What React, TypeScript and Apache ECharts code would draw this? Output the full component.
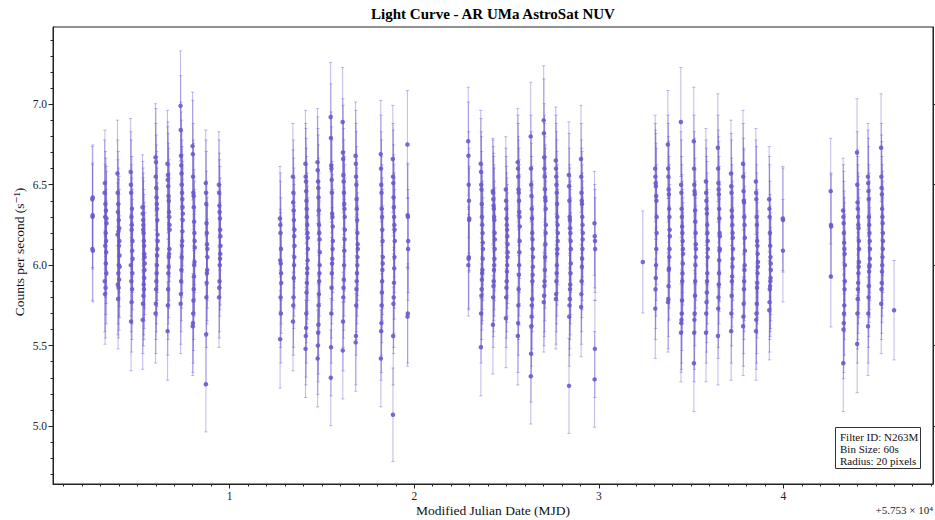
import React, { useEffect, useRef } from "react";
import * as echarts from "echarts";

// Time axis is MJD - 57530 (offset label shown at the lower right)
const BIN_SECONDS = 60;
const BIN_DAYS = BIN_SECONDS / 86400;

const X_MIN = 0.043;
const X_MAX = 4.81;
const Y_MIN = 4.64;
const Y_MAX = 7.48;

const xMajorTicks = [1, 2, 3, 4];
const yMajorTicks = [5.0, 5.5, 6.0, 6.5, 7.0];

// Mid times (MJD - 57530) of each orbit segment, and 60 s binned count rates (s^-1)
const visit1Mid = [0.2575, 0.328, 0.398, 0.469, 0.534, 0.604, 0.669, 0.74, 0.805, 0.875, 0.946];
const visit1Rates = [
  [6.41, 6.3, 6.42, 6.09, 6.31, 6.1],
  [6.45, 6.51, 6.3, 6.38, 6.2, 6.34, 6.08, 6.29, 6.26, 5.95, 6.15, 6.01, 5.86, 6.12, 5.82, 5.9],
  [6.57, 6.45, 6.33, 6.38, 6.21, 6.28, 6.12, 6.23, 6.06, 5.99, 6.15, 5.91, 6.0, 5.86, 5.95, 5.79, 5.88, 6.19],
  [6.58, 6.5, 6.45, 6.3, 6.22, 6.35, 6.09, 6.15, 6.04, 5.95, 5.85, 6.25, 5.77, 5.9, 5.65, 6.0],
  [6.36, 6.32, 6.28, 6.25, 6.2, 6.15, 6.12, 6.07, 6.05, 6.01, 5.97, 5.92, 5.85, 5.88, 5.81, 6.22, 5.76, 5.66],
  [6.67, 6.55, 6.64, 6.48, 6.42, 6.38, 6.35, 6.28, 6.19, 6.15, 6.1, 6.06, 6.0, 5.95, 5.9, 5.85, 5.76, 5.7],
  [6.63, 6.53, 6.56, 6.49, 6.43, 6.4, 6.33, 6.3, 6.25, 6.22, 6.1, 6.07, 6.05, 5.99, 5.95, 5.85, 5.75, 5.59],
  [6.99, 6.84, 6.68, 6.62, 6.57, 6.5, 6.45, 6.41, 6.36, 6.32, 6.28, 6.21, 6.15, 6.12, 6.05, 5.97, 5.9, 5.82, 5.76],
  [6.74, 6.69, 6.55, 6.45, 6.43, 6.36, 6.27, 6.2, 6.15, 6.11, 6.02, 6.0, 5.93, 5.85, 5.78, 5.7, 5.64, 5.62],
  [6.51, 6.45, 6.38, 6.26, 6.2, 6.13, 6.1, 6.05, 5.97, 5.95, 5.89, 5.8, 5.57, 5.26],
  [6.5, 6.45, 6.37, 6.33, 6.29, 6.22, 6.18, 6.12, 6.07, 6.04, 6.0, 5.9, 5.86, 5.8],
];

const visit2Mid = [1.276, 1.347, 1.417, 1.482, 1.553, 1.618, 1.688, 1.824, 1.889, 1.965];
const visit2Rates = [
  [6.29, 6.03, 6.2, 6.01, 6.1, 5.89, 5.95, 5.7, 5.8, 6.25, 5.54],
  [6.55, 6.39, 6.45, 6.34, 6.28, 6.18, 6.22, 6.12, 6.05, 6.0, 5.92, 5.8, 5.75, 5.65],
  [6.63, 6.55, 6.52, 6.46, 6.4, 6.35, 6.3, 6.25, 6.2, 6.17, 6.1, 6.03, 5.98, 5.95, 5.89, 5.83, 5.7, 5.61, 5.56, 5.48],
  [6.64, 6.59, 6.52, 6.48, 6.42, 6.34, 6.25, 6.2, 6.16, 6.08, 6.0, 5.95, 5.9, 5.82, 5.75, 5.63, 5.58, 5.5, 5.42],
  [6.92, 6.79, 6.62, 6.6, 6.53, 6.45, 6.32, 6.3, 6.24, 6.15, 6.1, 6.04, 6.01, 5.95, 5.86, 5.7, 5.49, 5.3],
  [6.89, 6.7, 6.66, 6.56, 6.52, 6.45, 6.38, 6.35, 6.3, 6.22, 6.16, 6.09, 6.0, 5.91, 5.86, 5.8, 5.65, 5.47],
  [6.68, 6.63, 6.55, 6.5, 6.41, 6.35, 6.28, 6.2, 6.13, 6.1, 6.05, 6.0, 5.95, 5.9, 5.85, 5.75, 5.56, 5.52],
  [6.69, 6.6, 6.5, 6.45, 6.35, 6.3, 6.22, 6.15, 6.05, 6.01, 5.97, 5.9, 5.83, 5.75, 5.64, 5.59, 5.42],
  [6.66, 6.55, 6.51, 6.42, 6.36, 6.3, 6.25, 6.22, 6.15, 6.05, 5.98, 5.89, 5.8, 5.76, 5.56, 5.07],
  [6.75, 6.31, 6.3, 6.15, 6.1, 5.7, 5.68],
];

const visit3Mid = [2.295, 2.366, 2.431, 2.501, 2.566, 2.637, 2.707, 2.772, 2.843, 2.908, 2.978];
const visit3Rates = [
  [6.77, 6.68, 6.5, 6.4, 6.29, 6.28, 6.05, 6.04, 6.0],
  [6.63, 6.58, 6.5, 6.47, 6.38, 6.3, 6.25, 6.2, 6.14, 6.1, 6.04, 5.97, 5.95, 5.91, 5.85, 5.81, 5.7, 5.49],
  [6.46, 6.45, 6.41, 6.37, 6.35, 6.3, 6.28, 6.2, 6.16, 6.1, 6.04, 6.0, 5.97, 5.9, 5.87, 5.8, 5.63],
  [6.47, 6.4, 6.35, 6.29, 6.25, 6.22, 6.18, 6.13, 6.08, 6.05, 6.0, 5.96, 5.9, 5.86, 5.8, 5.67],
  [6.64, 6.6, 6.55, 6.47, 6.45, 6.4, 6.33, 6.3, 6.24, 6.15, 6.08, 6.0, 5.94, 5.85, 5.75, 5.64, 5.56],
  [6.8, 6.6, 6.5, 6.43, 6.35, 6.29, 6.2, 6.16, 6.1, 6.05, 5.99, 5.94, 5.9, 5.79, 5.75, 5.68, 5.62, 5.45, 5.31],
  [6.9, 6.82, 6.67, 6.6, 6.55, 6.47, 6.42, 6.4, 6.35, 6.25, 6.2, 6.13, 6.05, 5.97, 5.9, 5.87, 5.81, 5.77],
  [6.65, 6.6, 6.55, 6.5, 6.45, 6.38, 6.3, 6.25, 6.2, 6.15, 6.1, 6.07, 6.0, 5.95, 5.9, 5.82, 5.79],
  [6.56, 6.49, 6.4, 6.3, 6.28, 6.23, 6.2, 6.15, 6.1, 6.01, 5.95, 5.88, 5.85, 5.79, 5.75, 5.68, 5.25],
  [6.66, 6.55, 6.45, 6.4, 6.38, 6.3, 6.25, 6.2, 6.16, 6.1, 6.04, 5.99, 5.9, 5.82, 5.74],
  [6.26, 6.18, 6.15, 6.1, 5.48, 5.29],
];

const visit4Mid = [3.238, 3.309, 3.379, 3.45, 3.52, 3.585, 3.65, 3.721, 3.786, 3.856, 3.927, 3.997];
const visit4Rates = [
  [6.02],
  [6.6, 6.55, 6.51, 6.49, 6.43, 6.4, 6.3, 6.2, 6.1, 6.0, 5.92, 5.85, 5.73],
  [6.75, 6.6, 6.55, 6.47, 6.44, 6.35, 6.3, 6.22, 6.18, 6.1, 6.05, 5.98, 5.97, 5.87, 5.79, 5.77],
  [6.89, 6.5, 6.45, 6.35, 6.3, 6.24, 6.2, 6.15, 6.1, 6.07, 6.01, 5.95, 5.9, 5.78, 5.7, 5.66, 5.64, 5.58],
  [6.77, 6.6, 6.5, 6.46, 6.44, 6.34, 6.27, 6.2, 6.13, 6.1, 6.05, 6.0, 5.9, 5.81, 5.7, 5.66, 5.58, 5.39],
  [6.52, 6.45, 6.4, 6.35, 6.32, 6.25, 6.2, 6.15, 6.1, 6.05, 5.95, 5.9, 5.83, 5.77, 5.7, 5.58],
  [6.73, 6.6, 6.51, 6.47, 6.44, 6.35, 6.29, 6.2, 6.18, 6.1, 6.09, 6.03, 5.95, 5.88, 5.8, 5.73, 5.56],
  [6.57, 6.49, 6.45, 6.34, 6.3, 6.25, 6.2, 6.17, 6.1, 6.04, 5.99, 5.93, 5.9, 5.81, 5.7, 5.59],
  [6.63, 6.55, 6.46, 6.4, 6.39, 6.3, 6.25, 6.17, 6.09, 6.0, 5.97, 5.9, 5.85, 5.76, 5.68, 5.62],
  [6.52, 6.45, 6.41, 6.3, 6.25, 6.15, 6.12, 6.07, 6.02, 5.99, 5.95, 5.89, 5.86, 5.76, 5.7, 5.66, 5.59],
  [6.41, 6.35, 6.3, 6.2, 6.12, 6.05, 6.01, 5.97, 5.92, 5.9, 5.87, 5.85, 5.77, 5.72],
  [6.29, 6.28, 6.09],
];

const visit5Mid = [4.257, 4.328, 4.404, 4.463, 4.534, 4.599];
const visit5Rates = [
  [6.46, 6.25, 6.24, 5.93],
  [6.34, 6.3, 6.26, 6.2, 6.14, 6.1, 6.07, 6.0, 5.9, 5.85, 5.75, 5.7, 5.64, 5.6, 5.39],
  [6.7, 6.5, 6.39, 6.35, 6.3, 6.25, 6.23, 6.15, 6.1, 6.02, 5.99, 5.95, 5.89, 5.85, 5.79, 5.7, 5.51],
  [6.55, 6.51, 6.46, 6.41, 6.3, 6.25, 6.2, 6.15, 6.1, 6.04, 6.0, 5.99, 5.96, 5.87, 5.8, 5.7, 5.62],
  [6.73, 6.55, 6.48, 6.44, 6.35, 6.3, 6.26, 6.2, 6.15, 6.1, 6.05, 6.0, 5.96, 5.89, 5.85, 5.76],
  [5.72],
];

const COLOR = "#6a5acd";
const FONT = "'Liberation Serif', 'DejaVu Serif', serif";

function buildPoints() {
  const mids = [visit1Mid, visit2Mid, visit3Mid, visit4Mid, visit5Mid];
  const rates = [visit1Rates, visit2Rates, visit3Rates, visit4Rates, visit5Rates];
  const pts: number[][] = [];
  mids.forEach((midArr, v) => {
    midArr.forEach((mid, c) => {
      const vals = rates[v][c];
      const n = vals.length;
      // interleave order in time so the column is not sorted
      const ordered: number[] = [];
      let a = 0;
      let b = n - 1;
      while (a <= b) {
        ordered.push(vals[a]);
        if (a !== b) ordered.push(vals[b]);
        a++;
        b--;
      }
      ordered.forEach((y, i) => {
        const x = mid + (i - (n - 1) / 2) * BIN_DAYS;
        const err = Math.sqrt(y * BIN_SECONDS) / BIN_SECONDS;
        pts.push([x, y, y - err, y + err]);
      });
    });
  });
  return pts;
}

const xMinorTicks: number[] = [];
for (let k = 1; k <= 48; k++) if (k % 10 !== 0) xMinorTicks.push(k / 10);
const yMinorTicks: number[] = [];
for (let k = 47; k <= 74; k++) if (k % 5 !== 0) yMinorTicks.push(k / 10);

export default function App() {
  const ref = useRef<HTMLDivElement>(null);
  useEffect(() => {
    if (!ref.current) return;
    const chart = echarts.init(ref.current, undefined, { renderer: "svg" });
    const pts = buildPoints();
    const axisColor = "#222";
    const option: any = {
      animation: false,
      backgroundColor: "#fff",
      grid: {
        left: 53,
        right: 2,
        top: 27,
        bottom: 36,
        show: true,
        borderColor: axisColor,
        borderWidth: 1,
        backgroundColor: "transparent",
      },
      xAxis: [
        {
          type: "value",
          min: X_MIN,
          max: X_MAX,
          position: "bottom",
          axisLine: { show: true, lineStyle: { color: axisColor, width: 1 } },
          axisTick: { show: true, customValues: xMajorTicks, length: 4.5, lineStyle: { color: axisColor } },
          axisLabel: {
            customValues: xMajorTicks,
            formatter: (v: number) => String(v),
            fontFamily: FONT,
            fontSize: 11.5,
            color: axisColor,
            margin: 6,
          },
          splitLine: { show: false },
        },
        {
          type: "value",
          min: X_MIN,
          max: X_MAX,
          position: "bottom",
          axisLine: { show: false },
          axisTick: { show: true, customValues: xMinorTicks, length: 2.5, lineStyle: { color: axisColor } },
          axisLabel: { show: false },
          splitLine: { show: false },
        },
      ],
      yAxis: [
        {
          type: "value",
          min: Y_MIN,
          max: Y_MAX,
          position: "left",
          axisLine: { show: true, lineStyle: { color: axisColor, width: 1 } },
          axisTick: { show: true, customValues: yMajorTicks, length: 4.5, lineStyle: { color: axisColor } },
          axisLabel: {
            customValues: yMajorTicks,
            formatter: (v: number) => v.toFixed(1),
            fontFamily: FONT,
            fontSize: 11.5,
            color: axisColor,
            margin: 6,
          },
          splitLine: { show: false },
        },
        {
          type: "value",
          min: Y_MIN,
          max: Y_MAX,
          position: "left",
          axisLine: { show: false },
          axisTick: { show: true, customValues: yMinorTicks, length: 2.5, lineStyle: { color: axisColor } },
          axisLabel: { show: false },
          splitLine: { show: false },
        },
        {
          type: "value",
          min: Y_MIN,
          max: Y_MAX,
          position: "right",
          axisLine: { show: true, lineStyle: { color: axisColor, width: 1 } },
          axisTick: { show: true, customValues: yMajorTicks, length: 2, lineStyle: { color: axisColor } },
          axisLabel: { show: false },
          splitLine: { show: false },
        },
      ],
      series: [
        {
          type: "custom",
          name: "errors",
          xAxisIndex: 0,
          yAxisIndex: 0,
          data: pts,
          encode: { x: 0, y: [1, 2, 3] },
          clip: true,
          z: 2,
          renderItem: (params: any, api: any) => {
            const x = api.value(0);
            const lo = api.coord([x, api.value(2)]);
            const hi = api.coord([x, api.value(3)]);
            const cw = 1.6;
            const style = { stroke: "rgba(106,90,205,0.42)", lineWidth: 1, fill: "none" };
            return {
              type: "group",
              children: [
                { type: "line", shape: { x1: lo[0], y1: lo[1], x2: hi[0], y2: hi[1] }, style },
                { type: "line", shape: { x1: lo[0] - cw, y1: lo[1], x2: lo[0] + cw, y2: lo[1] }, style },
                { type: "line", shape: { x1: hi[0] - cw, y1: hi[1], x2: hi[0] + cw, y2: hi[1] }, style },
              ],
            };
          },
        },
        {
          type: "scatter",
          name: "rate",
          xAxisIndex: 0,
          yAxisIndex: 0,
          data: pts.map((p) => [p[0], p[1]]),
          symbol: "circle",
          symbolSize: 4.5,
          itemStyle: { color: COLOR, opacity: 0.9 },
          z: 3,
        },
      ],
      graphic: [
        {
          type: "text",
          x: 493,
          y: 14,
          style: {
            text: "Light Curve - AR UMa AstroSat NUV",
            font: `bold 15px ${FONT}`,
            fill: "#000",
            textAlign: "center",
            textVerticalAlign: "middle",
          },
        },
        {
          type: "text",
          x: 493,
          y: 510,
          style: {
            text: "Modified Julian Date (MJD)",
            font: `13.5px ${FONT}`,
            fill: "#111",
            textAlign: "center",
            textVerticalAlign: "middle",
          },
        },
        {
          type: "text",
          x: 19,
          y: 252,
          rotation: Math.PI / 2,
          style: {
            text: "Counts per second (s\u207B\u00B9)",
            font: `13.5px ${FONT}`,
            fill: "#111",
            textAlign: "center",
            textVerticalAlign: "middle",
          },
        },
        {
          type: "text",
          x: 933,
          y: 510,
          style: {
            text: "+5.753 \u00D7 10\u2074",
            font: `11px ${FONT}`,
            fill: "#222",
            textAlign: "right",
            textVerticalAlign: "middle",
          },
        },
        {
          type: "rect",
          shape: { x: 835.5, y: 427.5, width: 85, height: 41 },
          style: { fill: "#fff", stroke: "#333", lineWidth: 1 },
          z: 10,
        },
        {
          type: "text",
          x: 840,
          y: 431,
          z: 11,
          style: {
            text: "Filter ID: N263M\nBin Size: 60s\nRadius: 20 pixels",
            font: `11px ${FONT}`,
            lineHeight: 12,
            fill: "#111",
            textAlign: "left",
            textVerticalAlign: "top",
          },
        },
      ],
    };
    chart.setOption(option);
    return () => chart.dispose();
  }, []);
  return (
    <div
      ref={ref}
      style={{ position: "absolute", left: 0, top: 0, width: 935, height: 520 }}
    />
  );
}
